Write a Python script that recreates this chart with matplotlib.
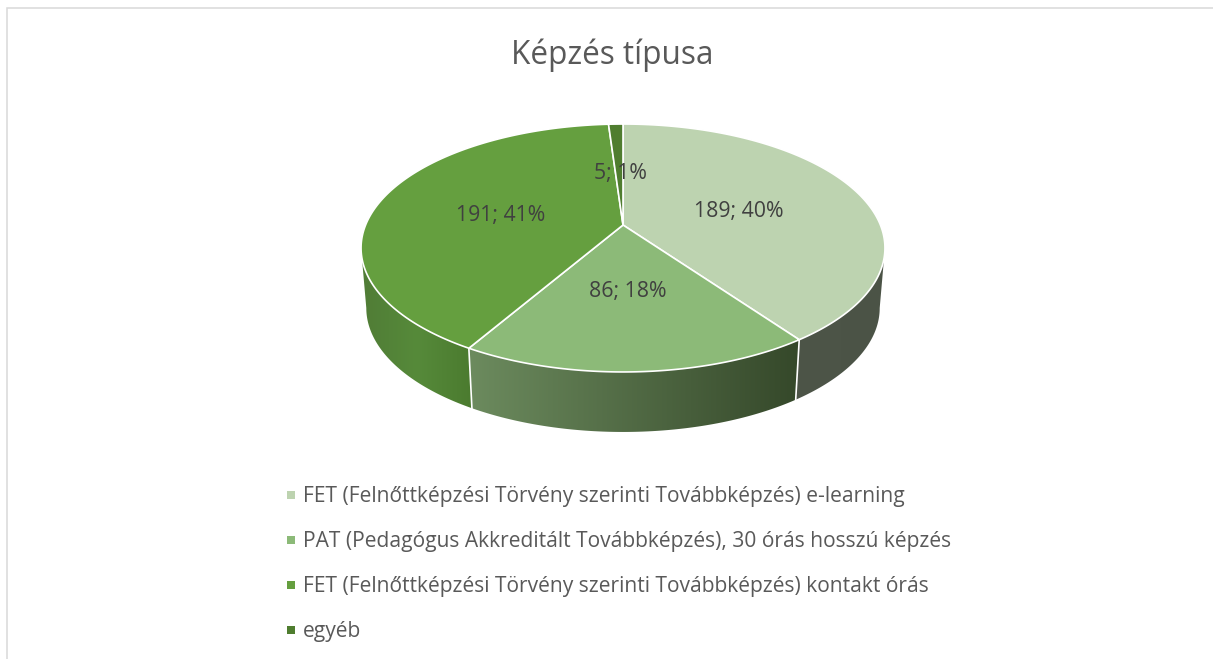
import numpy as np
import matplotlib
matplotlib.use("Agg")
import matplotlib.pyplot as plt
from matplotlib.colors import LinearSegmentedColormap
from matplotlib.patches import Polygon, Rectangle

# Data
title = "Képzés típusa"
categories = [
    "FET (Felnőttképzési Törvény szerinti Továbbképzés) e-learning",
    "PAT (Pedagógus Akkreditált Továbbképzés), 30 órás hosszú képzés",
    "FET (Felnőttképzési Törvény szerinti Továbbképzés) kontakt órás",
    "egyéb",
]
values = [189, 86, 191, 5]

colors = ["#BDD3B0", "#8CBA78", "#659F3F", "#4F7D2F"]
# wall gradient stops, left to right across each slice's visible side
wall_colors = [
    ["#4D5548", "#4B5346"],
    ["#6C8B5E", "#35482A"],
    ["#507C36", "#568A3A", "#4B7B2F"],
    ["#4F7D2F", "#4F7D2F"],
]
label_pos = [(739, 212), (628, 292), (501, 216), (620, 173)]
legend_y = [495, 540, 585, 630]

W, H = 1213, 659
CX, CY = 623, 225
RX, RY, K = 257.4, 119.7, 0.1855  # perspective tilt of the disc
DEPTH = 60
LOWER_SCALE = 0.98


def disc(theta, lower=False):
    # theta is clockwise from 12 o'clock, radians
    d = 1 + K * np.cos(theta)
    x = RX * np.sin(theta) / d
    y = RY * np.cos(theta) / d
    if lower:
        return CX + x * LOWER_SCALE, CY - y + DEPTH
    return CX + x, CY - y


fig = plt.figure(figsize=(W / 100, H / 100), dpi=100)
ax = fig.add_axes([0, 0, 1, 1])
ax.set_xlim(0, W)
ax.set_ylim(H, 0)
ax.axis("off")

# chart frame, runs off the right and bottom of the picture
ax.add_patch(Rectangle((6.5, 8), 1300, 700, fc="white", ec="#D9D9D9", lw=1.1, zorder=0))

total = sum(values)
edges = 2 * np.pi * np.concatenate([[0], np.cumsum(values)]) / total

# walls are only visible on the front part of the disc
front_start = np.arccos(-K)
front_end = 2 * np.pi - front_start

for i in range(len(values)):
    t0, t1 = max(edges[i], front_start), min(edges[i + 1], front_end)
    if t1 <= t0:
        continue
    t = np.linspace(t0, t1, 120)
    ux, uy = disc(t)
    lx, ly = disc(t, lower=True)
    pts = np.column_stack([np.r_[ux, lx[::-1]], np.r_[uy, ly[::-1]]])
    poly = Polygon(pts, closed=True, fc="none", ec="none", transform=ax.transData)
    ax.add_patch(poly)
    cmap = LinearSegmentedColormap.from_list("wall%d" % i, wall_colors[i])
    im = ax.imshow(
        np.linspace(0, 1, 256).reshape(1, -1),
        cmap=cmap,
        aspect="auto",
        extent=[pts[:, 0].min(), pts[:, 0].max(), pts[:, 1].max(), pts[:, 1].min()],
        zorder=2,
    )
    im.set_clip_path(poly)
    ax.set_xlim(0, W)
    ax.set_ylim(H, 0)

# white seams between the walls
for e in edges[1:-1]:
    if front_start < e < front_end:
        ux, uy = disc(e)
        lx, ly = disc(e, lower=True)
        ax.plot([ux, lx], [uy, ly], color="white", lw=1.2, zorder=3)

# top face
for i in range(len(values)):
    t = np.linspace(edges[i], edges[i + 1], 200)
    x, y = disc(t)
    pts = np.column_stack([np.r_[CX, x], np.r_[CY, y]])
    ax.add_patch(Polygon(pts, closed=True, fc=colors[i], ec="white", lw=1.2, zorder=4, joinstyle="round"))

    pct = round(100 * values[i] / total)
    ax.text(label_pos[i][0], label_pos[i][1], "%d; %d%%" % (values[i], pct), ha="center", va="center",
            fontsize=15.3, color="#404040", family="Open Sans", zorder=5)

ax.text(612, 55, title, ha="center", va="center", fontsize=22.7, color="#595959", family="Open Sans")

for name, c, y in zip(categories, colors, legend_y):
    ax.add_patch(Rectangle((287, y - 4), 8, 8, fc=c, ec="none"))
    ax.text(303, y + 1.5, name, ha="left", va="center", fontsize=15.1, color="#595959", family="Open Sans")

fig.savefig("out.png", dpi=100)
